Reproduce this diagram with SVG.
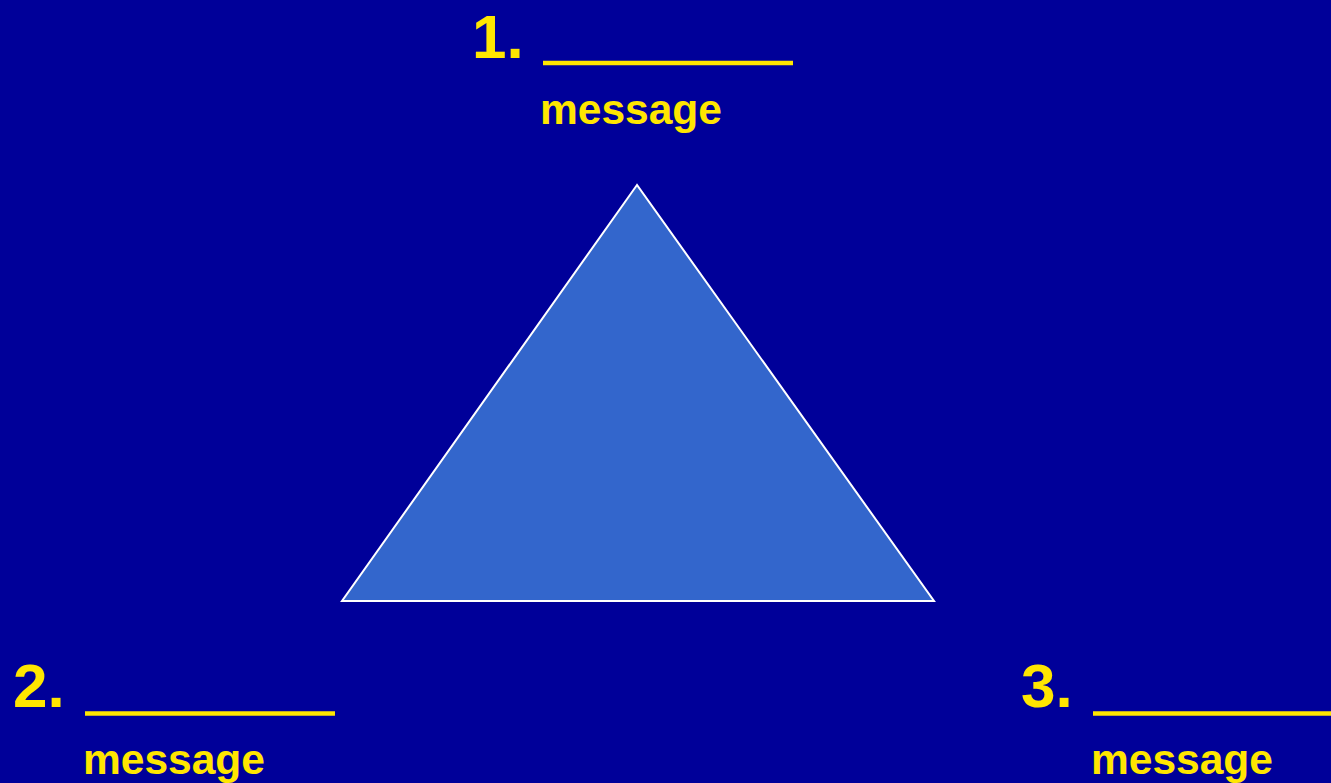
<svg xmlns="http://www.w3.org/2000/svg" width="1331" height="783" viewBox="0 0 1331 783">
<style>
.num{font-family:"Liberation Sans",Arial,sans-serif;font-weight:bold;font-size:62px;fill:#FFE600}
.msg{font-family:"Liberation Sans",Arial,sans-serif;font-weight:bold;font-size:42.5px;fill:#FFE600}
.ul{stroke:#FFE600;stroke-width:4.5}
</style>
<rect x="0" y="0" width="1331" height="783" fill="#000099"/>
<g id="triangle">
<polygon points="637,185 342,601 934,601" fill="#3366CC" stroke="#FFFFFF" stroke-width="2"/>
</g>
<g id="label1">
<text class="num" x="472" y="58">1.</text>
<line class="ul" x1="543" y1="63" x2="793" y2="63"/>
<text class="msg" x="540" y="124">message</text>
</g>
<g id="label2">
<text class="num" x="13" y="707">2.</text>
<line class="ul" x1="85" y1="713.5" x2="335" y2="713.5"/>
<text class="msg" x="83" y="774">message</text>
</g>
<g id="label3">
<text class="num" x="1021" y="707">3.</text>
<line class="ul" x1="1093" y1="713.5" x2="1331" y2="713.5"/>
<text class="msg" x="1091" y="774">message</text>
</g>
<g id="connectors"/>
</svg>
